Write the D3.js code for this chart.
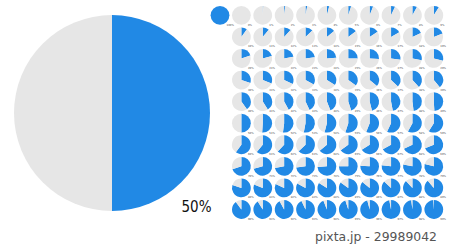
<!DOCTYPE html>
<html><head><meta charset="utf-8">
<script src="https://cdn.jsdelivr.net/npm/d3@7/dist/d3.min.js"></script>
<style>html,body{margin:0;padding:0;background:#fff;overflow:hidden}</style>
</head><body>
<svg id="c" width="450" height="244"></svg>
<script>
const bigValue = 50;
const bigLabel = "50%";
const smallValues = [100,
  0,1,2,3,4,5,6,7,8,9,
  10,11,12,13,14,15,16,17,18,19,
  20,21,22,23,24,25,26,27,28,29,
  30,31,32,33,34,35,36,37,38,39,
  40,41,42,43,44,45,46,47,48,49,
  50,51,52,53,54,55,56,57,58,59,
  60,61,62,63,64,65,66,67,68,69,
  70,71,72,73,74,75,76,77,78,79,
  80,81,82,83,84,85,86,87,88,89,
  90,91,92,93,94,95,96,97,98,99];
const smallCols = [0,
  1,2,3,4,5,6,7,8,9,10,
  1,2,3,4,5,6,7,8,9,10,
  1,2,3,4,5,6,7,8,9,10,
  1,2,3,4,5,6,7,8,9,10,
  1,2,3,4,5,6,7,8,9,10,
  1,2,3,4,5,6,7,8,9,10,
  1,2,3,4,5,6,7,8,9,10,
  1,2,3,4,5,6,7,8,9,10,
  1,2,3,4,5,6,7,8,9,10,
  1,2,3,4,5,6,7,8,9,10];
const smallRows = [0,
  0,0,0,0,0,0,0,0,0,0,
  1,1,1,1,1,1,1,1,1,1,
  2,2,2,2,2,2,2,2,2,2,
  3,3,3,3,3,3,3,3,3,3,
  4,4,4,4,4,4,4,4,4,4,
  5,5,5,5,5,5,5,5,5,5,
  6,6,6,6,6,6,6,6,6,6,
  7,7,7,7,7,7,7,7,7,7,
  8,8,8,8,8,8,8,8,8,8,
  9,9,9,9,9,9,9,9,9,9];
const footer = "pixta.jp - 29989042";

const BLUE = "#2189e5", GREY = "#e6e6e6";
const svg = d3.select("#c");
const pie = d3.pie().sort(null).value(d => d);

// big pie
const bigArc = d3.arc().innerRadius(0).outerRadius(98);
const big = svg.append("g").attr("transform", "translate(112,113)");
big.selectAll("path").data(pie([bigValue, 100 - bigValue])).join("path")
  .attr("d", bigArc).attr("fill", (d, i) => i === 0 ? BLUE : GREY);
svg.append("text").attr("x", 181.5).attr("y", 212)
  .attr("font-family", "'DejaVu Sans Condensed','DejaVu Sans',sans-serif")
  .attr("font-stretch", "condensed")
  .attr("font-size", 16.5).attr("fill", "#111")
  .attr("textLength", 30).attr("lengthAdjust", "spacingAndGlyphs")
  .text(bigLabel);

// small grid
const x = d3.scaleLinear().domain([0, 10]).range([220, 433.8]);
const y = d3.scaleLinear().domain([0, 9]).range([15.3, 209.5]);
const smallArc = d3.arc().innerRadius(0).outerRadius(9.4);
smallValues.forEach((v, i) => {
  const g = svg.append("g").attr("transform", `translate(${x(smallCols[i])},${y(smallRows[i])})`);
  g.selectAll("path").data(pie([v, 100 - v])).join("path")
    .attr("d", smallArc).attr("fill", (d, j) => j === 0 ? BLUE : GREY);
  g.append("text").attr("x", 6.5).attr("y", 10.5)
    .attr("font-family", "DejaVu Sans, sans-serif").attr("font-size", 2.6)
    .attr("fill", "#444").text(v + "%");
});

svg.append("text").attr("x", 315).attr("y", 240.5)
  .attr("font-family", "'DejaVu Sans',sans-serif").attr("font-size", 11.5)
  .attr("fill", "#555").attr("textLength", 122).attr("lengthAdjust", "spacingAndGlyphs")
  .text(footer);
</script>
</body></html>
